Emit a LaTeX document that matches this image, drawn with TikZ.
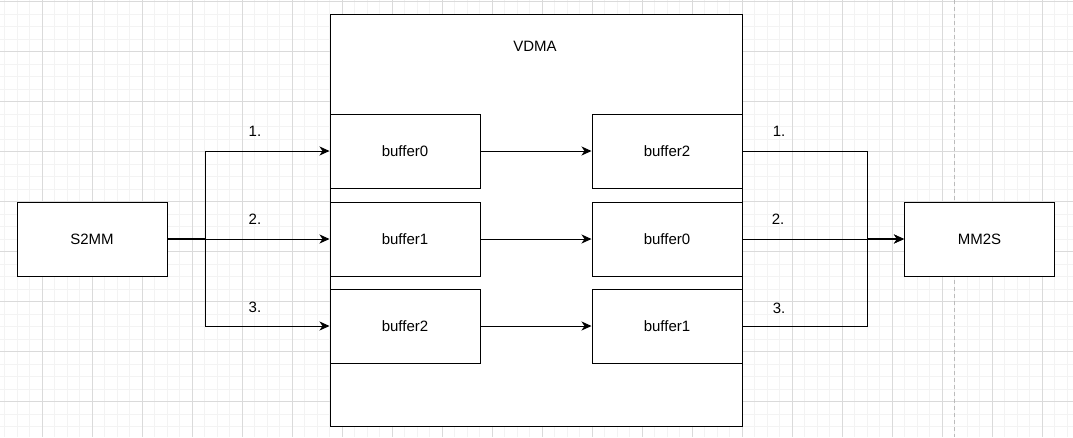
\documentclass[tikz,border=0pt]{standalone}
\usepackage{fontspec}
\setmainfont{Liberation Sans}
\usetikzlibrary{arrows.meta}
\definecolor{gridmajor}{HTML}{DADADA}
\definecolor{gridminor}{HTML}{F3F3F3}
\definecolor{pageline}{HTML}{BBBBBB}
\begin{document}
\begin{tikzpicture}[x=1pt,y=-1pt,
  box/.style={draw=black,line width=1pt,fill=white,minimum width=150pt,minimum height=74pt,inner sep=0pt,font=\fontsize{15}{18}\selectfont},
  lbl/.style={font=\fontsize{15}{18}\selectfont,inner sep=0pt},
  arr/.style={line width=1pt,-{Stealth[length=10pt,width=9pt,inset=3pt]}},
  conn/.style={line width=1pt}]
\useasboundingbox (0,0) rectangle (1073,437);
\fill[white] (0,0) rectangle (1073,437);
% grid
\foreach \i in {0,...,86} {
  \pgfmathsetmacro{\gx}{4.8+12.5*\i}
  \draw[gridminor,line width=0.8pt] (\gx,0) -- (\gx,437);
}
\foreach \i in {0,...,35} {
  \pgfmathsetmacro{\gy}{1.7+12.5*\i}
  \draw[gridminor,line width=0.8pt] (0,\gy) -- (1073,\gy);
}
\foreach \i in {0,...,21} {
  \pgfmathsetmacro{\gx}{42.3+50*\i}
  \draw[gridmajor,line width=0.8pt] (\gx,0) -- (\gx,437);
}
\foreach \i in {0,...,8} {
  \pgfmathsetmacro{\gy}{1.7+50*\i}
  \draw[gridmajor,line width=0.8pt] (0,\gy) -- (1073,\gy);
}
\draw[pageline,line width=0.8pt,dash pattern=on 4pt off 3pt] (954.7,0) -- (954.7,437);
% VDMA container
\node[box,minimum width=412pt,minimum height=412pt] (vdma) at (536,220) {};
\node[lbl] (vdmat) at (535,46) {VDMA};
% boxes
\node[box] (s2mm) at (92,239) {S2MM};
\node[box] (mm2s) at (979.5,239) {MM2S};
\node[box] (lb0) at (405,151) {buffer0};
\node[box] (lb1) at (405,239) {buffer1};
\node[box] (lb2) at (405,326) {buffer2};
\node[box] (rb0) at (667,151) {buffer2};
\node[box] (rb1) at (667,239) {buffer0};
\node[box] (rb2) at (667,326) {buffer1};
% junctions
\coordinate (jl) at (205,239);
\coordinate (jr) at (867,239);
% left fork
\draw[arr] (s2mm.east) -- (jl) |- (lb0.west);
\draw[arr] (s2mm.east) -- (lb1.west);
\draw[arr] (jl) |- (lb2.west);
\draw[line width=1.6pt] (s2mm.east) -- (jl);
% middle
\draw[arr] (lb0.east) -- (rb0.west);
\draw[arr] (lb1.east) -- (rb1.west);
\draw[arr] (lb2.east) -- (rb2.west);
% right merge
\draw[conn] (rb0.east) -| (jr);
\draw[conn] (rb2.east) -| (jr);
\draw[arr] (rb1.east) -- (mm2s.west);
\draw[line width=1.6pt,-{Stealth[length=10pt,width=9pt,inset=3pt]}] (jr) -- (mm2s.west);
% labels
\node[lbl] (l1) at (255,131) {1.};
\node[lbl] (l2) at (255,219) {2.};
\node[lbl] (l3) at (255,307) {3.};
\node[lbl] (r1) at (779,131) {1.};
\node[lbl] (r2) at (778,219) {2.};
\node[lbl] (r3) at (779,308) {3.};
\end{tikzpicture}
\end{document}
